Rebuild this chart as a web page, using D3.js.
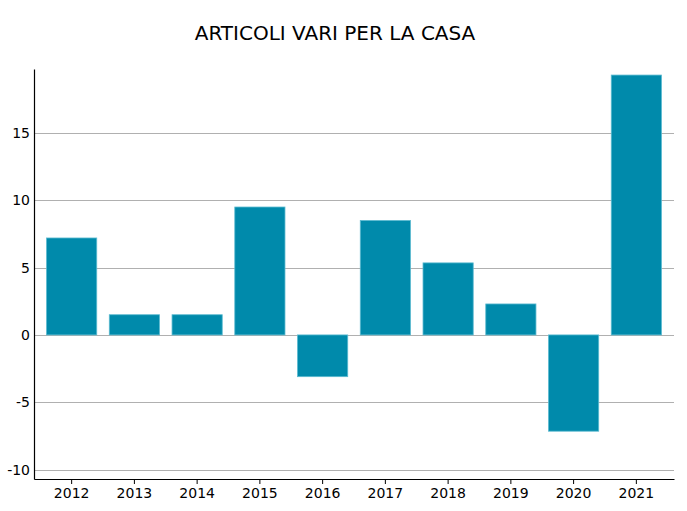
<!DOCTYPE html>
<meta charset="utf-8">
<script src="https://d3js.org/d3.v7.min.js"></script>
<style>
  body { margin: 0; background: #fff; }
  text { font-family: "DejaVu Sans", sans-serif; }
</style>
<div id="chart"></div>
<script>
// data
var years = ["2012","2013","2014","2015","2016","2017","2018","2019","2020","2021"];
var values = [7.2, 1.5, 1.5, 9.5, -3.1, 8.5, 5.35, 2.3, -7.15, 19.3];
var yTicks = [-10, -5, 0, 5, 10, 15];

var W = 687, H = 511;
var margin = {top: 69, right: 13, bottom: 32, left: 34};
var width = W - margin.left - margin.right;
var height = H - margin.top - margin.bottom;

var svg = d3.select("#chart").append("svg")
  .attr("width", W)
  .attr("height", H);

svg.append("text")
  .attr("x", 335)
  .attr("y", 40)
  .attr("text-anchor", "middle")
  .style("font-size", "20px")
  .text("ARTICOLI VARI PER LA CASA");

var g = svg.append("g")
  .attr("transform", "translate(" + margin.left + "," + margin.top + ")");

var x = d3.scaleBand()
  .domain(years)
  .range([0, width])
  .paddingInner(0.2)
  .paddingOuter(0.2);

var y = d3.scaleLinear()
  .domain([-10.7, 19.75])
  .range([height, 0]);

// gridlines
g.selectAll(".grid")
  .data(yTicks)
  .enter().append("line")
  .attr("x1", 0)
  .attr("x2", width)
  .attr("y1", d => Math.round(y(d)) + 0.5)
  .attr("y2", d => Math.round(y(d)) + 0.5)
  .attr("stroke", "#b0b0b0")
  .attr("stroke-width", 1);

// bars
g.selectAll(".bar")
  .data(values)
  .enter().append("rect")
  .attr("x", (d, i) => x(years[i]))
  .attr("width", x.bandwidth())
  .attr("y", d => y(Math.max(0, d)))
  .attr("height", d => Math.abs(y(d) - y(0)))
  .attr("fill", "#008aab")
  .attr("stroke", "#5bbad0")
  .attr("stroke-width", 0.8);

// y axis
var yAxis = g.append("g")
  .call(d3.axisLeft(y).tickValues(yTicks).tickSize(0).tickPadding(4)
    .tickFormat(d => String(d)));
yAxis.select(".domain").attr("stroke", "#000").attr("stroke-width", 1.2);
yAxis.selectAll("text").style("font-size", "14px").attr("fill", "#000");

// x axis
var xAxis = g.append("g")
  .attr("transform", "translate(0," + height + ")")
  .call(d3.axisBottom(x).tickSize(5).tickSizeOuter(0).tickPadding(4));
xAxis.select(".domain").attr("stroke", "#000").attr("stroke-width", 1.2);
xAxis.selectAll("text").style("font-size", "14px").attr("fill", "#000");
</script>
